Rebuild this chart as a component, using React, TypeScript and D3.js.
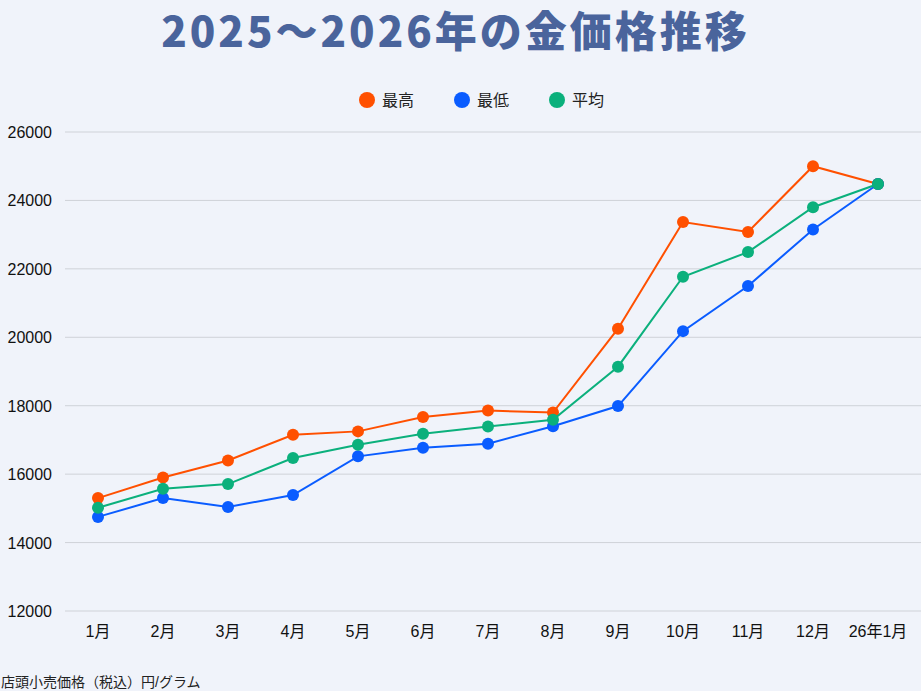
import * as React from "react";
import * as d3 from "d3";

const months = ["1月", "2月", "3月", "4月", "5月", "6月", "7月", "8月", "9月", "10月", "11月", "12月", "26年1月"];
const highValues = [15300, 15900, 16400, 17150, 17250, 17670, 17860, 17800, 20250, 23370, 23080, 25000, 24480];
const lowValues = [14750, 15300, 15040, 15390, 16520, 16770, 16890, 17400, 17990, 20180, 21500, 23150, 24480];
const avgValues = [15020, 15570, 15710, 16470, 16860, 17180, 17390, 17590, 19140, 21770, 22490, 23800, 24480];
const yTicks = [12000, 14000, 16000, 18000, 20000, 22000, 24000, 26000];

const series = [
	{ name: "最高", color: "#ff5000", values: highValues },
	{ name: "最低", color: "#0a5cff", values: lowValues },
	{ name: "平均", color: "#0bb07c", values: avgValues },
];

const W = 921;
const H = 691;
const font = "'Liberation Sans', 'Noto Sans CJK JP', sans-serif";

export default function App() {
	const xScale = d3.scalePoint<string>().domain(months).range([98, 878]);
	const yScale = d3.scaleLinear().domain([12000, 26000]).range([611, 132]);
	const line = d3
		.line<number>()
		.x((_, i) => xScale(months[i])!)
		.y((d) => yScale(d));

	const legendX = [367, 462, 557];

	return (
		<svg
			width={W}
			height={H}
			style={{ position: "absolute", left: 0, top: 0, background: "#f0f3fa" }}
			fontFamily={font}
		>
			<rect width={W} height={H} fill="#f0f3fa" />
			<text
				x={W / 2 - 5}
				y={47}
				textAnchor="middle"
				fontSize={42}
				fontWeight={900}
				letterSpacing={3}
				fill="#4a649c"
				fontFamily="'Noto Sans CJK JP', sans-serif"
			>
				2025～2026年の金価格推移
			</text>
			{series.map((s, i) => (
				<g key={s.name} transform={`translate(${legendX[i]},100)`}>
					<circle r={8} fill={s.color} />
					<text x={15} y={6} fontSize={16} fill="#222">
						{s.name}
					</text>
				</g>
			))}
			{yTicks.map((t) => (
				<g key={t}>
					<line x1={65} x2={W} y1={yScale(t)} y2={yScale(t)} stroke="#cfd2d8" />
					<text x={52} y={yScale(t) + 6} textAnchor="end" fontSize={16} fill="#111">
						{t}
					</text>
				</g>
			))}
			{months.map((m) => (
				<text key={m} x={xScale(m)} y={637} textAnchor="middle" fontSize={16} fill="#111">
					{m}
				</text>
			))}
			{series.map((s) => (
				<g key={s.name}>
					<path d={line(s.values)!} fill="none" stroke={s.color} strokeWidth={2} />
					{s.values.map((v, i) => (
						<circle key={i} cx={xScale(months[i])} cy={yScale(v)} r={6} fill={s.color} />
					))}
				</g>
			))}
			<text x={1} y={687} fontSize={14} fill="#222">
				店頭小売価格（税込）円/グラム
			</text>
		</svg>
	);
}
